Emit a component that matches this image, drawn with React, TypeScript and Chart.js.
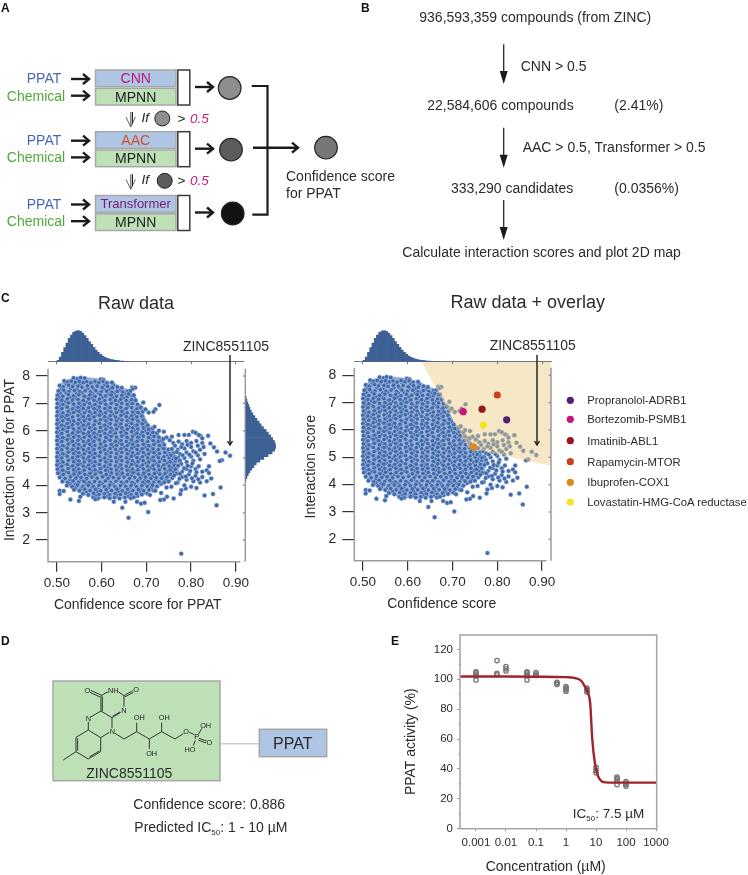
import React, { useEffect, useRef } from "react";
import { Chart, registerables } from "chart.js";

Chart.register(...registerables);
const FONT = '"Liberation Sans", Arial, sans-serif';
Chart.defaults.font.family = FONT;

// ---------- panel C data (confidence ×1000, interaction ×100) ----------
const cloudUpper = [
  537,793, 546,790, 553,794, 562,792, 598,788, 604,786,
  516,782, 524,778, 532,781, 541,777, 550,780, 559,776, 567,779, 576,775, 585,781, 594,776, 603,780, 612,774, 623,776,
  506,765, 514,760, 526,766, 535,761, 547,763, 556,759, 568,764, 579,760, 590,763, 601,758, 613,762, 624,757, 635,760, 645,757, 668,758,
  503,745, 515,748, 527,743, 539,747, 551,742, 563,746, 575,741, 587,746, 599,742, 611,745, 623,740, 635,744, 647,741, 658,744,
  501,730, 513,726, 525,732, 537,727, 549,731, 561,726, 573,730, 585,725, 597,731, 609,727, 621,730, 633,726, 645,729, 657,725, 668,728,
  500,715, 511,711, 523,716, 535,712, 547,714, 559,710, 571,716, 583,711, 595,715, 607,710, 619,714, 631,711, 643,715, 655,710, 667,713, 676,711,
  501,699, 513,696, 525,701, 537,697, 549,700, 561,695, 573,699, 585,696, 597,701, 609,696, 621,699, 633,695, 645,700, 657,696, 669,699, 680,696,
  500,684, 511,681, 523,686, 535,680, 547,685, 559,681, 571,684, 583,680, 595,686, 607,681, 619,684, 631,680, 643,685, 655,681, 667,684, 679,680, 689,683,
  501,669, 513,665, 525,670, 537,666, 549,671, 561,665, 573,669, 585,666, 597,670, 609,665, 621,669, 633,666, 645,671, 657,665, 669,668, 681,666, 692,669,
  500,654, 511,651, 523,656, 535,650, 547,655, 559,651, 571,654, 583,650, 595,656, 607,651, 619,654, 631,650, 643,655, 655,651, 667,654, 679,650, 690,653,
  501,639, 513,636, 525,641, 537,635, 549,640, 561,636, 573,641, 585,635, 597,639, 609,636, 621,640, 633,635, 645,639, 657,636, 669,641, 681,635, 693,639,
  500,624, 511,620, 523,626, 535,621, 547,625, 559,620, 571,624, 583,621, 595,626, 607,620, 619,625, 631,621, 643,624, 655,620, 667,626, 679,621, 691,624, 703,620,
  501,609, 513,605, 525,611, 537,606, 549,609, 561,605, 573,610, 585,606, 597,611, 609,605, 621,609, 633,606, 645,610, 657,605, 669,609, 681,606, 693,610, 705,605, 714,608,
  500,594, 511,590, 523,596, 535,591, 547,595, 559,590, 571,594, 583,591, 595,596, 607,590, 619,595, 631,591, 643,594, 655,590, 667,596, 679,591, 691,594, 703,590, 715,593, 724,591,
  501,579, 513,575, 525,581, 537,576, 549,579, 561,575, 573,580, 585,576, 597,581, 609,575, 621,579, 633,576, 645,580, 657,575, 669,579, 681,576, 693,580, 705,575, 717,579, 728,576,
];
const cloudLower = [
  500,564, 511,560, 523,566, 535,561, 547,565, 559,560, 571,564, 583,561, 595,566, 607,560, 619,565, 631,561, 643,564, 655,560, 667,566, 679,561, 691,564, 703,560, 715,563, 727,561, 735,564,
  501,549, 513,545, 525,551, 537,546, 549,549, 561,545, 573,550, 585,546, 597,551, 609,545, 621,549, 633,546, 645,550, 657,545, 669,549, 681,546, 693,550, 705,545, 717,549, 729,546, 740,548,
  500,534, 511,530, 523,536, 535,531, 547,535, 559,530, 571,534, 583,531, 595,536, 607,530, 619,535, 631,531, 643,534, 655,530, 667,536, 679,531, 691,534, 703,530, 715,533, 727,531, 739,534, 749,531,
  501,519, 513,515, 525,521, 537,516, 549,519, 561,515, 573,520, 585,516, 597,521, 609,515, 621,519, 633,516, 645,520, 657,515, 669,519, 681,516, 693,520, 705,515, 717,519, 729,516, 741,520, 753,516, 762,519,
  500,504, 511,500, 523,506, 535,501, 547,505, 559,500, 571,504, 583,501, 595,506, 607,500, 619,505, 631,501, 643,504, 655,500, 667,506, 679,501, 691,504, 703,500, 715,503, 727,501, 739,504, 751,500, 763,503, 771,501,
  501,489, 513,485, 525,491, 537,486, 549,489, 561,485, 573,490, 585,486, 597,491, 609,485, 621,489, 633,486, 645,490, 657,485, 669,489, 681,486, 693,490, 705,485, 717,489, 729,486, 741,490, 753,486, 765,489, 774,486,
  500,474, 511,470, 523,476, 535,471, 547,475, 559,470, 571,474, 583,471, 595,476, 607,470, 619,475, 631,471, 643,474, 655,470, 667,476, 679,471, 691,474, 703,470, 715,473, 727,471, 739,474, 751,470, 763,473, 771,471,
  501,459, 513,455, 525,461, 537,456, 549,459, 561,455, 573,460, 585,456, 597,461, 609,455, 621,459, 633,456, 645,460, 657,455, 669,459, 681,456, 693,460, 705,455, 717,459, 729,456, 741,460, 753,456, 765,459,
  502,444, 514,440, 526,446, 538,441, 550,445, 562,440, 574,444, 586,441, 598,446, 610,440, 622,445, 634,441, 646,444, 658,440, 670,446, 682,441, 694,444, 706,440, 718,443, 730,441, 742,444, 754,440, 767,443,
  506,429, 518,425, 530,431, 542,426, 554,429, 566,425, 578,430, 590,426, 602,431, 614,425, 626,429, 638,426, 650,430, 662,425, 674,429, 686,426, 698,430, 710,425, 722,429, 734,426, 746,430, 758,427,
  512,414, 524,410, 536,416, 548,411, 560,415, 572,410, 584,414, 596,411, 608,416, 620,410, 632,415, 644,411, 656,414, 668,410, 680,416, 692,411, 704,414, 716,410, 728,413, 740,411, 750,414,
  522,399, 534,395, 546,401, 558,396, 570,399, 582,395, 594,400, 606,396, 618,401, 630,395, 642,399, 654,396, 666,400, 678,395, 690,399, 702,396, 714,400, 724,396,
  538,384, 550,380, 562,386, 574,381, 586,385, 598,380, 610,384, 622,381, 634,386, 646,380, 658,385, 670,381, 682,384, 694,380, 706,383, 716,381,
  558,369, 570,365, 582,371, 594,366, 606,369, 618,365, 630,370, 642,366, 654,371, 666,365, 678,369, 690,366, 702,370,
  581,355, 592,352, 606,356, 618,353, 629,355, 640,352, 652,355, 665,353, 672,356,
];
const cloudBetween = [
  521,771, 538,769, 553,772, 572,769, 588,771, 607,768, 626,767, 641,750, 510,752, 531,754, 545,752, 569,754, 583,752, 604,753, 618,751, 652,735,
  507,737, 520,739, 544,736, 556,738, 579,735, 592,738, 616,735, 628,737, 663,735, 506,721, 529,722, 542,720, 566,723, 577,720, 602,722, 625,721, 650,720, 672,720,
  505,705, 519,707, 531,705, 555,706, 567,704, 591,707, 603,704, 627,705, 639,707, 663,704, 506,690, 517,692, 541,689, 553,691, 577,688, 589,691, 613,689, 637,691, 661,690, 685,689,
  506,675, 530,676, 543,673, 555,677, 567,674, 591,676, 615,675, 639,673, 651,677, 675,674, 505,660, 517,658, 529,662, 553,659, 577,661, 589,658, 601,662, 625,659, 649,661, 673,659, 686,661,
  506,645, 518,647, 531,644, 555,646, 567,644, 579,647, 603,644, 615,646, 639,644, 663,647, 675,645, 505,630, 529,632, 541,629, 553,631, 565,629, 589,632, 613,630, 637,628, 661,630, 685,629, 697,631,
  506,615, 518,617, 530,614, 554,615, 566,618, 578,614, 602,617, 614,614, 638,616, 662,613, 674,617, 698,614, 505,600, 517,602, 541,600, 553,598, 577,601, 601,599, 625,602, 649,599, 673,601, 697,599, 709,601,
  506,585, 530,586, 542,583, 566,586, 578,584, 590,587, 614,584, 626,586, 650,583, 674,586, 686,584, 710,586, 722,584, 505,570, 517,572, 529,569, 553,571, 577,569, 589,572, 613,570, 637,568, 661,571, 685,569, 709,571, 731,570,
  506,555, 530,556, 542,553, 566,556, 578,554, 602,556, 626,553, 638,556, 662,553, 674,556, 698,553, 722,556, 737,555, 505,540, 517,542, 541,540, 553,538, 577,541, 601,539, 625,542, 649,539, 673,541, 697,539, 711,541, 735,539,
  506,525, 530,526, 542,523, 566,526, 578,524, 602,526, 614,523, 638,526, 662,524, 686,526, 710,523, 723,526, 747,524, 505,510, 517,512, 541,510, 553,508, 577,511, 589,509, 613,512, 637,509, 661,511, 675,509, 699,511, 723,508, 747,511, 759,509,
  506,495, 530,496, 542,493, 566,496, 578,494, 602,496, 614,493, 638,496, 662,494, 686,496, 710,493, 735,496, 759,494, 769,496, 505,481, 517,479, 541,481, 553,478, 577,482, 589,479, 613,481, 637,479, 661,482, 675,479, 699,481, 723,478, 747,481, 760,479,
  506,466, 530,467, 542,464, 566,467, 578,465, 602,466, 614,464, 638,467, 662,465, 686,467, 710,464, 735,467, 759,465, 507,451, 519,449, 543,451, 555,448, 579,452, 591,449, 615,451, 639,449, 663,452, 675,449, 699,451, 723,448, 747,451, 760,449,
  510,436, 534,437, 546,434, 570,437, 582,435, 606,436, 618,434, 642,437, 666,435, 690,437, 714,434, 738,437, 752,435, 517,421, 529,419, 553,421, 565,418, 589,422, 613,419, 637,421, 661,419, 685,422, 697,419, 721,421, 744,419,
  529,406, 541,404, 565,407, 577,405, 601,406, 625,404, 649,407, 673,405, 697,406, 709,404, 733,406, 541,391, 555,389, 579,392, 591,389, 615,391, 639,389, 663,392, 687,389, 711,391, 566,376, 590,377, 613,375, 637,377, 661,375, 685,377, 696,375,
  588,362, 612,360, 636,362, 660,360, 680,361,
];
const fringe = [
  887,508, 877,520, 869,492, 864,489, 858,524, 851,539, 843,553, 838,581, 821,581, 825,572, 817,584, 804,596, 810,592, 795,584,
  785,584, 772,584, 757,578, 739,596, 728,600, 718,614, 729,694, 720,678, 716,669, 705,666, 698,678, 693,703, 687,685, 675,757,
  669,752, 664,745, 660,734, 672,730, 866,392, 857,327, 849,368, 830,363, 778,382, 788,388, 761,352, 776,368, 746,358, 739,348,
  731,346, 704,302, 660,281, 646,318, 778,150, 506,380, 515,379, 506,368, 530,348, 549,343, 552,358, 586,349, 627,340, 653,340,
  679,340, 688,333, 696,336, 760,555, 772,560, 780,550, 790,562, 800,555, 812,562, 825,555, 815,545, 800,540, 785,535, 770,530,
  775,515, 790,520, 805,525, 820,530, 815,510, 800,505, 785,500, 775,490, 790,485, 805,490, 820,495, 830,515, 840,470, 835,455,
  825,450, 810,460, 800,470, 790,460, 780,450, 795,440, 810,435, 825,430, 840,445, 845,425, 835,415, 820,410, 805,415, 790,420,
  780,430, 770,410, 785,400, 800,395, 812,390, 745,575, 752,565, 738,570, 764,545, 778,540, 792,548, 757,533, 768,522, 781,510,
  796,512, 810,520, 828,540, 755,510, 766,498, 778,478, 792,472, 803,480, 817,470, 771,472, 784,462, 798,452, 812,448, 775,442,
  788,432, 802,426, 816,422, 762,436, 774,424, 766,408, 756,395, 745,392, 733,372, 720,380, 708,365,
];
const cloudHull = [
  [498, 500], [502, 765], [520, 785], [540, 796], [565, 796], [598, 790], [625, 778], [645, 760], [668, 745], [680, 700], [692, 670],
  [705, 625], [722, 595], [735, 565], [750, 530], [772, 505], [776, 480], [772, 440], [755, 415], [725, 390], [690, 362], [640, 350],
  [590, 350], [555, 368], [525, 395], [508, 425], [498, 500],
];
const topHistBins = [
  502.5, 507.5, 512.5, 517.5, 522.5, 527.5, 532.5, 537.5, 542.5, 547.5, 552.5, 557.5, 562.5, 567.5, 572.5, 577.5, 582.5, 587.5,
  592.5, 597.5, 602.5, 607.5, 612.5, 617.5, 622.5, 627.5, 632.5, 637.5, 642.5, 647.5, 652.5, 657.5, 662.5, 667.5,
];
const topHistHeights = [
  4, 14, 28, 42, 56, 70, 80, 88, 92, 93, 91, 86, 78, 70, 60, 52, 43, 35, 28, 22, 17, 13, 10, 8, 6, 5, 4, 3, 2, 1.5, 1, 0.6, 0.4, 0.2,
];
const sideHistBins = [
  4.2, 4.3, 4.4, 4.5, 4.6, 4.7, 4.8, 4.9, 5.0, 5.1, 5.2, 5.3, 5.4, 5.5, 5.6, 5.7, 5.8, 5.9, 6.0, 6.1, 6.2, 6.3, 6.4, 6.5, 6.6, 6.7, 6.8,
  6.9, 7.0, 7.1, 7.2,
];
const sideHistHeights = [
  1, 4, 8, 13, 19, 25, 32, 43, 55, 68, 80, 88, 91, 90, 87, 82, 76, 69, 62, 54, 47, 41, 34, 28, 22, 17, 13, 10, 7, 4, 2,
];
const overlayRegion = [
  [0.631, 8.498], [0.92, 8.498], [0.92, 4.69], [0.735, 5.34], [0.631, 8.498],
];
const confidenceTicks = [0.5, 0.6, 0.7, 0.8, 0.9];
const interactionTicks = [2, 3, 4, 5, 6, 7, 8];
const drugNames = [
  "Propranolol-ADRB1", "Bortezomib-PSMB1", "Imatinib-ABL1", "Rapamycin-MTOR", "Ibuprofen-COX1", "Lovastatin-HMG-CoA reductase",
];
const drugConfidence = [0.821, 0.724, 0.766, 0.8, 0.747, 0.769];
const drugInteraction = [6.37, 6.67, 6.76, 7.28, 5.38, 6.18];
const drugColors = ["#54206f", "#c8157c", "#98151f", "#c9401f", "#dc8a1c", "#f3e41e"];

// ---------- panel E data ----------
const concentrations = [0.001, 0.005, 0.01, 0.05, 0.1, 0.5, 1, 5, 10, 50, 100];
const activityReplicates = [
  [99.5, 102.5, 103.5, 104.5, 105],
  [103, 104, 112.5],
  [105.5, 107, 108.5],
  [99.5, 102.5, 103.5, 104.5, 105],
  [102.5, 103.5, 104.5],
  [96.5, 97.5, 98],
  [92, 93, 94, 95],
  [91.5, 92.5, 93, 94],
  [37.5, 39, 41],
  [29.5, 32.5, 33.5, 34.5],
  [28.5, 29.5, 30.5, 31.5],
];
const fitConcentration = [0.0003, 0.01, 0.1, 1, 2, 3.2, 4.3, 5.4, 6.4, 7.5, 9.3, 11.8, 14.8, 20, 100, 1050];
const fitActivity = [101.8, 101.8, 101.7, 101.4, 100.8, 99, 95, 91, 84, 60, 43, 35, 32, 31, 30.8, 30.8];
const concTicks = [0.001, 0.01, 0.1, 1, 10, 100, 1000];
const activityTicks = [0, 20, 40, 60, 80, 100, 120];
const activityMinorTicks = [10, 30, 50, 70, 90, 110];

const pairs = (flat: number[]) => {
  const out: { x: number; y: number }[] = [];
  for (let i = 0; i < flat.length; i += 2) out.push({ x: flat[i] / 1000, y: flat[i + 1] / 100 });
  return out;
};
const allDots = [...pairs(cloudBetween), ...pairs(cloudUpper), ...pairs(cloudLower), ...pairs(fringe)];

type Caption = { text: string; x: number; y: number; size: number; rot?: boolean };
const text = (ctx: any, c: Caption) => {
  ctx.save();
  ctx.translate(c.x, c.y);
  if (c.rot) ctx.rotate(-Math.PI / 2);
  ctx.font = `${c.size}px ${FONT}`;
  ctx.fillStyle = "#2b2b2b";
  ctx.textAlign = "center";
  ctx.textBaseline = "middle";
  ctx.fillText(c.text, 0, 0);
  ctx.restore();
};

const SPINE = "#9c9c9c";
function scatterChart(canvas: HTMLCanvasElement, o: any) {
  const { left, right, top, bottom, xMin, xMax, yMin, yMax, spineTop, sideX, captions, datasets } = o;
  return new Chart(canvas, {
    type: "scatter",
    data: { datasets },
    plugins: [
      {
        id: "frame",
        afterDraw(chart: any) {
          const { ctx } = chart;
          const xs = chart.scales.x;
          const ys = chart.scales.y;
          ctx.save();
          ctx.strokeStyle = SPINE;
          ctx.lineWidth = 1.5;
          ctx.beginPath();
          ctx.moveTo(left, ys.getPixelForValue(spineTop));
          ctx.lineTo(left, bottom);
          ctx.lineTo(xs.getPixelForValue(0.91), bottom);
          ctx.moveTo(sideX, ys.getPixelForValue(spineTop));
          ctx.lineTo(sideX, bottom);
          interactionTicks.forEach((v) => {
            ctx.moveTo(sideX, ys.getPixelForValue(v));
            ctx.lineTo(sideX - 2.5, ys.getPixelForValue(v));
          });
          ctx.stroke();
          ctx.restore();
          captions.forEach((c: Caption) => text(ctx, c));
        },
      },
    ],
    options: {
      animation: false,
      responsive: false,
      layout: { padding: { left: 0, top, right: 748 - right, bottom: 0 } },
      plugins: { legend: { display: false }, tooltip: { enabled: false } },
      scales: {
        x: {
          type: "linear",
          min: xMin,
          max: xMax,
          afterFit(s: any) { s.height = 875 - bottom; },
          afterBuildTicks(s: any) { s.ticks = confidenceTicks.map((value) => ({ value })); },
          ticks: { callback: (v: any) => Number(v).toFixed(2), font: { size: 13.5 }, color: "#2b2b2b", padding: 3, autoSkip: false, maxRotation: 0 },
          grid: { drawOnChartArea: false, tickLength: 10, color: "#333", lineWidth: 1.2 },
          border: { display: false },
        },
        y: {
          type: "linear",
          min: yMin,
          max: yMax,
          afterFit(s: any) { s.width = left; },
          afterBuildTicks(s: any) { s.ticks = interactionTicks.map((value) => ({ value })); },
          ticks: { font: { size: 14 }, color: "#2b2b2b", padding: 6, autoSkip: false },
          grid: { drawOnChartArea: false, tickLength: 12, color: "#333", lineWidth: 1.2 },
          border: { display: false },
        },
      },
    } as any,
  });
}

const HIST = "#3e6195";
function topHist(canvas: HTMLCanvasElement, left: number, right: number, xMin: number, xMax: number) {
  return new Chart(canvas, {
    type: "bar",
    data: {
      datasets: [
        {
          data: topHistBins.map((b, i) => ({ x: b / 1000, y: topHistHeights[i] })),
          backgroundColor: HIST,
          borderWidth: 0,
          barPercentage: 1,
          categoryPercentage: 1,
        },
      ],
    },
    options: {
      animation: false,
      responsive: false,
      layout: { padding: { left, top: 325, right: 748 - right, bottom: 0 } },
      plugins: { legend: { display: false }, tooltip: { enabled: false } },
      scales: {
        x: {
          type: "linear",
          offset: false,
          min: xMin,
          max: xMax,
          afterFit(s: any) { s.height = 875 - 361.7; },
          afterBuildTicks(s: any) { s.ticks = confidenceTicks.map((value) => ({ value })); },
          ticks: { display: false },
          grid: { offset: false, drawOnChartArea: false, tickLength: 2.5, color: "#777", lineWidth: 1 },
          border: { color: "#777", width: 1 },
        },
        y: { display: false, min: 0, max: 110 },
      },
    } as any,
  });
}

function sideHist(canvas: HTMLCanvasElement, yMin: number, yMax: number) {
  return new Chart(canvas, {
    type: "bar",
    data: {
      datasets: [
        {
          data: sideHistBins.map((b, i) => ({ y: b, x: sideHistHeights[i] })),
          backgroundColor: HIST,
          borderWidth: 0,
          barPercentage: 1,
          categoryPercentage: 1,
        },
      ],
    },
    options: {
      indexAxis: "y",
      animation: false,
      responsive: false,
      layout: { padding: { left: 245.6, top: 368.7, right: 748 - 280, bottom: 875 - 561.7 } },
      plugins: { legend: { display: false }, tooltip: { enabled: false } },
      scales: {
        x: { type: "linear", display: false, min: 0, max: 104 },
        y: { type: "linear", display: false, offset: false, min: yMin, max: yMax },
      },
    } as any,
  });
}

function doseChart(canvas: HTMLCanvasElement) {
  const points: { x: number; y: number }[] = [];
  concentrations.forEach((c, i) => activityReplicates[i].forEach((y) => points.push({ x: c, y })));
  const L = 460, R = 656.7, T = 635, B = 828.7;
  return new Chart(canvas, {
    type: "scatter",
    data: {
      datasets: [
        {
          data: fitConcentration.map((x, i) => ({ x, y: fitActivity[i] })),
          showLine: true,
          borderColor: "#9f2430",
          borderWidth: 2.4,
          pointRadius: 0,
          cubicInterpolationMode: "monotone",
          order: 1,
        },
        {
          data: points,
          showLine: false,
          pointRadius: 2.2,
          backgroundColor: "rgba(0,0,0,0)",
          borderColor: "#777",
          borderWidth: 1.3,
          order: 2,
        },
      ],
    },
    plugins: [
      {
        id: "doseFrame",
        afterDraw(chart: any) {
          const { ctx } = chart;
          const ys = chart.scales.y;
          ctx.save();
          ctx.strokeStyle = "#a8a8a8";
          ctx.lineWidth = 1.6;
          ctx.strokeRect(L, T, R - L, B - T);
          ctx.strokeStyle = "#999";
          ctx.lineWidth = 1;
          ctx.beginPath();
          activityMinorTicks.forEach((v) => {
            ctx.moveTo(L, ys.getPixelForValue(v));
            ctx.lineTo(L - 1.5, ys.getPixelForValue(v));
          });
          ctx.stroke();
          ctx.restore();
          text(ctx, { text: "Concentration (µM)", x: 545.7, y: 867.5, size: 14 });
          text(ctx, { text: "PPAT activity (%)", x: 411.5, y: 741.7, size: 14, rot: true });
          ctx.save();
          ctx.fillStyle = "#2b2b2b";
          ctx.textAlign = "left";
          ctx.textBaseline = "alphabetic";
          ctx.font = `13.5px ${FONT}`;
          ctx.fillText("IC", 572.7, 818);
          const w = ctx.measureText("IC").width;
          ctx.font = `8px ${FONT}`;
          ctx.fillText("50", 572.7 + w, 821);
          ctx.font = `13.5px ${FONT}`;
          ctx.fillText(": 7.5 µM", 572.7 + w + 9, 818);
          ctx.restore();
        },
      },
    ],
    options: {
      animation: false,
      responsive: false,
      layout: { padding: { left: 0, top: T, right: 748 - R, bottom: 0 } },
      plugins: { legend: { display: false }, tooltip: { enabled: false } },
      scales: {
        x: {
          type: "logarithmic",
          min: 0.000293,
          max: 1054,
          afterFit(s: any) { s.height = 875 - B; },
          afterBuildTicks(s: any) { s.ticks = concTicks.map((value) => ({ value })); },
          ticks: { callback: (v: any) => String(v), font: { size: 11.5 }, color: "#2b2b2b", padding: 5, autoSkip: false, maxRotation: 0 },
          grid: { drawOnChartArea: false, tickLength: 2.5, color: "#999", lineWidth: 1 },
          border: { display: false },
        },
        y: {
          type: "linear",
          min: 0,
          max: 129.6,
          afterFit(s: any) { s.width = L; },
          afterBuildTicks(s: any) { s.ticks = activityTicks.map((value) => ({ value })); },
          ticks: { font: { size: 11.5 }, color: "#2b2b2b", padding: 4, autoSkip: false },
          grid: { drawOnChartArea: false, tickLength: 3, color: "#999", lineWidth: 1 },
          border: { display: false },
        },
      },
    } as any,
  });
}

// ---------- schematic helpers (panels A, B, D) ----------
const BLUE_BOX = "#aec5e3";
const GREEN_BOX = "#bde0b7";
const Thick = ({ x1, x2, y, w = 2.4, color = "#1d1a18" }: any) => (
  <g stroke={color} strokeWidth={w} fill="none" strokeLinejoin="miter">
    <line x1={x1} y1={y} x2={x2 - 1} y2={y} />
    <polyline points={`${x2 - 7},${y - 5} ${x2 - 1},${y} ${x2 - 7},${y + 5}`} />
  </g>
);
const Down = ({ x, y1, y2 }: any) => (
  <g>
    <line x1={x} y1={y1} x2={x} y2={y2 - 8} stroke="#2a2623" strokeWidth={1.3} />
    <polygon points={`${x - 4},${y2 - 13} ${x + 4},${y2 - 13} ${x},${y2}`} fill="#1d1a18" />
  </g>
);
const T = ({ x, y, s = 14, c = "#2b2b2b", a = "start", i = false, b = false, children }: any) => (
  <text x={x} y={y} fontSize={s} fill={c} textAnchor={a} dominantBaseline="central" fontStyle={i ? "italic" : "normal"} fontWeight={b ? "bold" : "normal"}>
    {children}
  </text>
);
const ModelRow = ({ y0, circleX, circleFill, name, nameColor, nameSize = 14 }: any) => (
  <g>
    <T x={44} y={y0 + 8.3} c="#4a66b5" a="middle" s={14}>PPAT</T>
    <T x={36} y={y0 + 25.5} c="#52a83c" a="middle" s={14}>Chemical</T>
    <Thick x1={71} x2={90} y={y0 + 9} />
    <Thick x1={71} x2={90} y={y0 + 25.7} />
    <rect x={95.5} y={y0} width={80.5} height={16.7} fill={BLUE_BOX} stroke="#a8a8a8" strokeWidth={1.5} />
    <rect x={95.5} y={y0 + 18.3} width={80.5} height={16.7} fill={GREEN_BOX} stroke="#a8a8a8" strokeWidth={1.5} />
    <rect x={177.8} y={y0} width={12} height={35} fill="#fff" stroke="#3a3a3a" strokeWidth={1.5} />
    <T x={135.7} y={y0 + 8.3} c={nameColor} a="middle" s={nameSize}>{name}</T>
    <T x={135.7} y={y0 + 26.7} c="#222" a="middle" s={14}>MPNN</T>
    <Thick x1={195} x2={214} y={y0 + 17} />
    <circle cx={circleX} cy={y0 + 18} r={11.3} fill={circleFill} stroke="#222" strokeWidth={1.2} />
  </g>
);
const IfRow = ({ y, cx, fill }: any) => (
  <g>
    <g stroke="#555" strokeWidth={0.9} fill="none">
      <line x1={130.7} y1={y - 6} x2={130.7} y2={y + 9} />
      <polyline points={`${126},${y - 1} ${130.7},${y + 9} ${135.4},${y - 1}`} />
    </g>
    <line x1={132.4} y1={y - 6} x2={132.4} y2={y + 6} stroke="#222" strokeWidth={1.2} />
    <T x={141.5} y={y - 0.5} i s={13.5} c="#222">If</T>
    <circle cx={cx} cy={y + 0.5} r={7.5} fill={fill} stroke="#222" strokeWidth={1} />
    <T x={177.5} y={y + 0.5} s={13.5} c="#222">&gt;</T>
    <T x={190} y={y} i s={13.5} c="#c9197a">0.5</T>
  </g>
);
const Molecule = () => {
  const bonds = [
    [153, 62, 175, 50], [205, 50, 222, 62], [222, 62, 222, 95], [212, 112, 186, 128], [186, 128, 153, 108], [153, 108, 153, 62],
    [157, 108, 157, 64], [122, 46, 153, 60], [120, 52, 150, 66], [222, 62, 248, 47], [224, 66, 250, 52], [188, 124, 210, 111],
    [153, 108, 122, 126], [115, 140, 115, 165], [115, 165, 152, 188], [152, 188, 178, 172], [186, 160, 186, 128],
    [115, 165, 78, 187], [78, 187, 78, 230], [83, 190, 83, 227], [78, 230, 115, 252], [115, 252, 152, 230], [118, 246, 148, 228],
    [152, 230, 152, 188], [78, 230, 40, 255], [195, 175, 222, 192], [222, 192, 260, 170], [260, 170, 298, 192], [298, 192, 335, 170],
    [335, 170, 375, 192], [375, 192, 400, 176], [260, 170, 260, 143], [298, 192, 298, 222], [335, 170, 335, 143], [418, 172, 433, 179],
    [445, 178, 456, 160], [447, 190, 470, 198], [445, 195, 468, 204], [436, 196, 430, 212],
  ];
  const labels = [
    ["O", 112, 46], ["NH", 190, 48], ["O", 258, 44], ["N", 222, 106], ["N", 115, 130], ["N", 187, 171], ["OH", 268, 128],
    ["OH", 343, 128], ["OH", 305, 235], ["O", 408, 170], ["P", 440, 186], ["OH", 467, 152], ["O", 478, 203], ["HO", 420, 225],
  ];
  return (
    <g transform="translate(50,675) scale(0.3333)">
      {bonds.map((b, i) => (
        <line key={i} x1={b[0]} y1={b[1]} x2={b[2]} y2={b[3]} stroke="#2a2a2a" strokeWidth={2.8} />
      ))}
      {labels.map((l, i) => (
        <text key={i} x={l[1] as number} y={l[2] as number} fontSize={22} fill="#222" textAnchor="middle" dominantBaseline="central">
          {l[0]}
        </text>
      ))}
    </g>
  );
};

const legendY = [400.3, 419.3, 440.7, 461.7, 482.3, 502];

export default function App() {
  const refs = useRef<(HTMLCanvasElement | null)[]>([]);
  useEffect(() => {
    const yMin = 1.205;
    const yMaxL = 8.267;
    const dotStyle = {
      data: allDots,
      showLine: false,
      pointRadius: 2.25,
      backgroundColor: "#3f68ad",
      borderColor: "rgba(190,207,232,0.85)",
      borderWidth: 0.6,
    };
    const hullStyle = {
      data: cloudHull.map((p) => ({ x: p[0] / 1000, y: p[1] / 100 })),
      showLine: true,
      fill: "shape",
      borderWidth: 0,
      pointRadius: 0,
      backgroundColor: "#94acd3",
    };
    const charts = [
      scatterChart(refs.current[0]!, {
        left: 48, right: 243, top: 368.7, bottom: 561.7, xMin: 0.4799, xMax: 0.9161, yMin, yMax: yMaxL, spineTop: yMaxL, sideX: 245.3,
        datasets: [{ ...hullStyle, order: 3 }, { ...dotStyle, order: 2 }],
        captions: [
          { text: "Confidence score for PPAT", x: 137.7, y: 605, size: 14 },
          { text: "Interaction score for PPAT", x: 10.5, y: 460, size: 14, rot: true },
        ],
      }),
      topHist(refs.current[1]!, 48, 243, 0.4799, 0.9161),
      sideHist(refs.current[2]!, yMin, yMaxL),
      scatterChart(refs.current[3]!, {
        left: 354.3, right: 551, top: 361.7, bottom: 560.7, xMin: 0.4806, xMax: 0.92, yMin: 1.217, yMax: 8.498, spineTop: 8.28, sideX: 551,
        datasets: [
          { ...hullStyle, order: 4 },
          { ...dotStyle, order: 3 },
          {
            data: overlayRegion.map((p) => ({ x: p[0], y: p[1] })),
            showLine: true,
            fill: "shape",
            borderWidth: 0,
            pointRadius: 0,
            backgroundColor: "rgba(236,205,130,0.45)",
            order: 2,
          },
          {
            data: drugConfidence.map((x, i) => ({ x, y: drugInteraction[i] })),
            showLine: false,
            pointRadius: 3.6,
            backgroundColor: drugColors,
            borderWidth: 0,
            order: 1,
          },
        ],
        captions: [
          { text: "Confidence score", x: 441.7, y: 604, size: 14 },
          { text: "Interaction score", x: 311, y: 466.7, size: 14, rot: true },
        ],
      }),
      topHist(refs.current[4]!, 354.3, 551, 0.4806, 0.92),
      doseChart(refs.current[5]!),
    ];
    return () => charts.forEach((c) => c.destroy());
  }, []);

  const canvasStyle: React.CSSProperties = { position: "absolute", left: 0, top: 0, display: "block" };
  return (
    <div style={{ position: "absolute", left: 0, top: 0, width: 748, height: 875, overflow: "hidden", background: "#fff", fontFamily: FONT }}>
      {[0, 1, 2, 3, 4, 5].map((i) => (
        <canvas key={i} ref={(el) => { refs.current[i] = el; }} width={748} height={875} style={canvasStyle} />
      ))}
      <svg width={748} height={875} style={{ position: "absolute", left: 0, top: 0, fontFamily: FONT }}>
        <T x={1} y={8} s={12} b c="#111">A</T>
        <T x={361} y={8} s={12} b c="#111">B</T>
        <T x={1} y={298} s={12} b c="#111">C</T>
        <T x={1} y={641} s={12} b c="#111">D</T>
        <T x={391} y={641} s={12} b c="#111">E</T>

        {/* Panel A */}
        <ModelRow y0={70} circleX={229.7} circleFill="#8e8e8e" name="CNN" nameColor="#c0187a" />
        <ModelRow y0={131.7} circleX={231} circleFill="#5c5c5c" name="AAC" nameColor="#d0502a" />
        <ModelRow y0={195.5} circleX={232.7} circleFill="#141210" name="Transformer" nameColor="#7a1a70" nameSize={13} />
        <IfRow y={118} cx={162.3} fill="#8e8e8e" />
        <IfRow y={180.3} cx={164.7} fill="#5c5c5c" />
        <polyline points="251.7,86 267.5,86 267.5,214.7 252.3,214.7" fill="none" stroke="#1d1a18" strokeWidth={2.2} />
        <Thick x1={253} x2={299} y={147.7} />
        <circle cx={326} cy={147.7} r={11.3} fill="#777" stroke="#222" strokeWidth={1.2} />
        <T x={286} y={176}>Confidence score</T>
        <T x={286} y={193}>for PPAT</T>

        {/* Panel B */}
        <T x={419.3} y={16.5}>936,593,359 compounds (from ZINC)</T>
        <Down x={503.7} y1={44.3} y2={84} />
        <T x={520.7} y={65.7}>CNN &gt; 0.5</T>
        <T x={427.3} y={105}>22,584,606 compounds</T>
        <T x={614.3} y={105}>(2.41%)</T>
        <Down x={503.7} y1={127.7} y2={167.7} />
        <T x={522.7} y={147}>AAC &gt; 0.5, Transformer &gt; 0.5</T>
        <T x={451} y={188.3}>333,290 candidates</T>
        <T x={614.3} y={188.3}>(0.0356%)</T>
        <Down x={503.7} y1={200} y2={240} />
        <T x={402.3} y={251.7}>Calculate interaction scores and plot 2D map</T>

        {/* Panel C annotations */}
        <T x={136} y={302.7} s={18} a="middle">Raw data</T>
        <T x={527.7} y={301.7} s={18} a="middle">Raw data + overlay</T>
        <T x={226} y={345.7} a="middle">ZINC8551105</T>
        <T x={532.7} y={345.3} a="middle">ZINC8551105</T>
        <Down2 x={230} />
        <Down2 x={537} />
        {drugNames.map((n, i) => (
          <g key={n}>
            <circle cx={570.3} cy={legendY[i]} r={3.6} fill={drugColors[i]} />
            <T x={587.3} y={legendY[i]} s={11.3}>{n}</T>
          </g>
        ))}

        {/* Panel D */}
        <rect x={53} y={681} width={167} height={99.7} fill={GREEN_BOX} stroke="#a8a8a8" strokeWidth={1.5} />
        <Molecule />
        <T x={129.3} y={773.3} a="middle">ZINC8551105</T>
        <line x1={221} y1={743.7} x2={259.3} y2={743.7} stroke="#ccc" strokeWidth={1.5} />
        <rect x={259.3} y={729.3} width={67.4} height={27.4} fill={BLUE_BOX} stroke="#a8a8a8" strokeWidth={1.5} />
        <T x={292.7} y={743.7} s={16} a="middle">PPAT</T>
        <T x={133.3} y={804.3}>Confidence score: 0.886</T>
        <text x={134.3} y={831.5} fontSize={14} fill="#2b2b2b">
          Predicted IC<tspan fontSize={8} dy={3}>50</tspan><tspan dy={-3}>:  1 - 10 µM</tspan>
        </text>
      </svg>
    </div>
  );
}

function Down2({ x }: any) {
  return (
    <g>
      <line x1={x} y1={355} x2={x} y2={445} stroke="#1d1a18" strokeWidth={1.4} />
      <polyline points={`${x - 2.5},${441} ${x},${445} ${x + 2.5},${441}`} fill="none" stroke="#1d1a18" strokeWidth={1.4} />
    </g>
  );
}
